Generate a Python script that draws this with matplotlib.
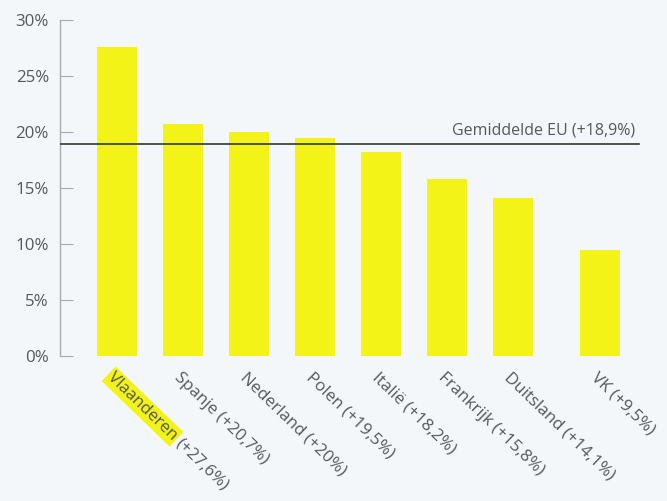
import matplotlib
matplotlib.use("Agg")
import matplotlib.pyplot as plt
import numpy as np

regions = ["Vlaanderen", "Spanje", "Nederland", "Polen", "Italië", "Frankrijk", "Duitsland", "VK"]
value_labels = ["+27,6%", "+20,7%", "+20%", "+19,5%", "+18,2%", "+15,8%", "+14,1%", "+9,5%"]
values = [27.6, 20.7, 20.0, 19.5, 18.2, 15.8, 14.1, 9.5]
eu_avg = 18.9
eu_label = "Gemiddelde EU (+18,9%)"
yticks = [0, 5, 10, 15, 20, 25, 30]
ytick_labels = ["0%", "5%", "10%", "15%", "20%", "25%", "30%"]

BG = "#f4f7f9"
YELLOW = "#f3f318"
TXT = "#54595b"
AXIS = "#a8acae"

plt.rcParams["font.family"] = ["Open Sans", "DejaVu Sans"]

fig = plt.figure(figsize=(6.67, 5.01), dpi=100, facecolor=BG)
ax = fig.add_axes([60 / 667, 1 - 356 / 501, 585 / 667, 336 / 501])
ax.set_facecolor(BG)

# VK sits a bit apart from the rest in the original
xpos = np.array([0, 1, 2, 3, 4, 5, 6, 7.32])
ax.bar(xpos, values, width=0.61, color=YELLOW, zorder=2)
ax.axhline(eu_avg, xmax=0.99, color="#2f3a30", linewidth=1.2, zorder=3)
ax.text(7.85, eu_avg + 0.5, eu_label, ha="right", va="bottom", fontsize=11.5, color=TXT)

ax.set_xlim(-0.864, 8.0)
ax.set_ylim(0, 30)
ax.set_yticks(yticks)
ax.set_yticklabels(ytick_labels, fontsize=12.2, color=TXT)
ax.tick_params(axis="y", direction="in", length=9, color=AXIS, pad=8)
ax.set_xticks([])
for s in ["top", "right", "bottom"]:
    ax.spines[s].set_visible(False)
ax.spines["left"].set_color(AXIS)
ax.spines["left"].set_linewidth(1.0)

ROT = -44
fs = 12.2
renderer = fig.canvas.get_renderer()
for i, (name, vl) in enumerate(zip(regions, value_labels)):
    x = xpos[i] - 0.02
    if i == 0:
        t = ax.text(x, -1.2, name, rotation=ROT, rotation_mode="anchor", ha="left", va="top",
                    fontsize=fs, color=TXT,
                    bbox=dict(boxstyle="square,pad=0.12", facecolor=YELLOW, edgecolor="none"))
        tmp = fig.text(0, 0, name + " ", fontsize=fs)
        w = tmp.get_window_extent(renderer).width * 72 / fig.dpi
        tmp.remove()
        ang = np.deg2rad(ROT)
        ax.annotate(f"({vl})", (x, -1.2), xytext=(w * np.cos(ang), w * np.sin(ang)),
                    textcoords="offset points", rotation=ROT, rotation_mode="anchor",
                    ha="left", va="top", fontsize=fs, color=TXT, annotation_clip=False)
    else:
        ax.text(x, -1.2, f"{name} ({vl})", rotation=ROT, rotation_mode="anchor",
                ha="left", va="top", fontsize=fs, color=TXT)

fig.savefig("out.png", dpi=100, facecolor=BG)
